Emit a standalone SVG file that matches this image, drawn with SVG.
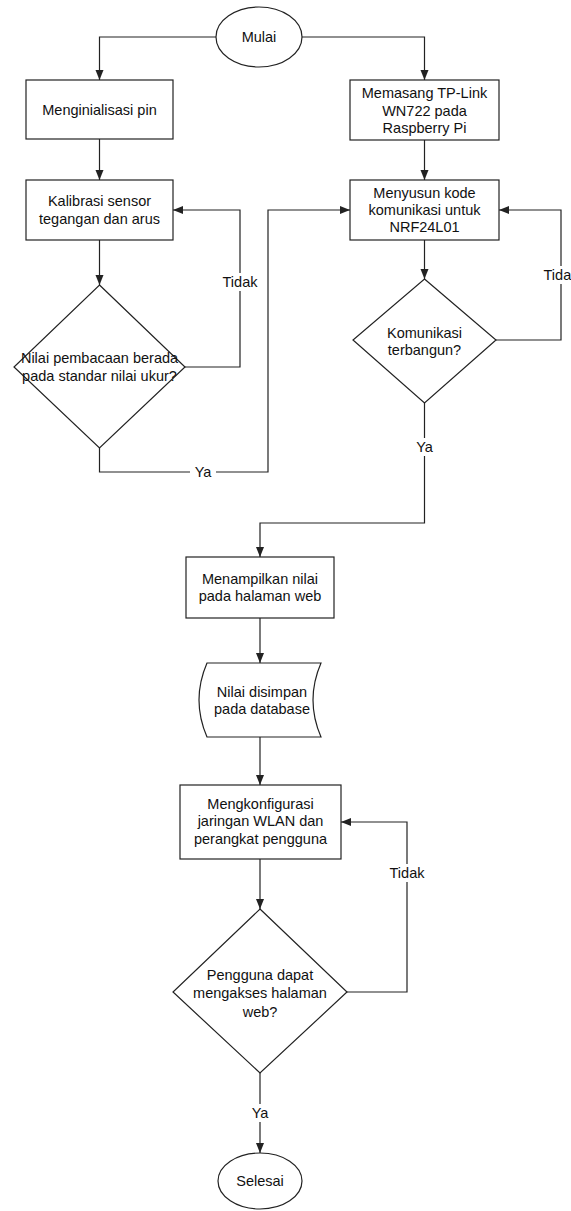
<svg xmlns="http://www.w3.org/2000/svg" width="571" height="1211" viewBox="0 0 571 1211">
<style>
  .shape { fill: #fff; stroke: #222; stroke-width: 1.2; }
  .edge { fill: none; stroke: #222; stroke-width: 1.2; }
  text { font-family: "Liberation Sans", Arial, sans-serif; font-size: 14.5px; fill: #111; text-anchor: middle; dominant-baseline: central; }
  .lblbg { fill: #fff; }
</style>
<defs>
  <marker id="arr" markerUnits="userSpaceOnUse" markerWidth="10" markerHeight="10" viewBox="0 0 10 10" refX="10" refY="5" orient="auto">
    <path d="M0,1 L10,5 L0,9 Z" fill="#222"/>
  </marker>
</defs>
<rect width="571" height="1211" fill="#fff"/>

<g id="connectors">
  <path class="edge" d="M216,37 H99.5 V80" marker-end="url(#arr)"/>
  <path class="edge" d="M302,37 H424.5 V80" marker-end="url(#arr)"/>
  <path class="edge" d="M99.5,139 V180" marker-end="url(#arr)"/>
  <path class="edge" d="M424.5,140 V180" marker-end="url(#arr)"/>
  <path class="edge" d="M99.5,240 V285" marker-end="url(#arr)"/>
  <path class="edge" d="M185,367 H240 V210 H173" marker-end="url(#arr)"/>
  <path class="edge" d="M99.5,448 V472 H268 V210 H350" marker-end="url(#arr)"/>
  <path class="edge" d="M424.5,240 V279" marker-end="url(#arr)"/>
  <path class="edge" d="M496,340 H561 V210 H499" marker-end="url(#arr)"/>
  <path class="edge" d="M424.5,403 V523 H260 V557" marker-end="url(#arr)"/>
  <path class="edge" d="M260,618 V663" marker-end="url(#arr)"/>
  <path class="edge" d="M260,737 V785" marker-end="url(#arr)"/>
  <path class="edge" d="M260,859 V909" marker-end="url(#arr)"/>
  <path class="edge" d="M347,992 H407 V822 H341" marker-end="url(#arr)"/>
  <path class="edge" d="M260,1073 V1153" marker-end="url(#arr)"/>
  <rect class="lblbg" x="221" y="273" width="38" height="18"/>
  <text x="240" y="282">Tidak</text>
  <rect class="lblbg" x="190" y="463" width="26" height="18"/>
  <text x="203" y="472">Ya</text>
  <rect class="lblbg" x="542" y="266" width="38" height="18"/>
  <text x="561" y="275">Tidak</text>
  <rect class="lblbg" x="411" y="438" width="26" height="18"/>
  <text x="424.5" y="447">Ya</text>
  <rect class="lblbg" x="388" y="864" width="38" height="18"/>
  <text x="407" y="873">Tidak</text>
  <rect class="lblbg" x="247" y="1104" width="26" height="18"/>
  <text x="260" y="1113">Ya</text>
</g>

<g id="mulai">
  <ellipse class="shape" cx="259" cy="37" rx="43" ry="30"/>
  <text x="259" y="37">Mulai</text>
</g>
<g id="menginisialisasi">
  <rect class="shape" x="26" y="80" width="147" height="59"/>
  <text x="99.5" y="109.5">Menginialisasi pin</text>
</g>
<g id="kalibrasi">
  <rect class="shape" x="26" y="180" width="147" height="60"/>
  <text x="99.5" y="201">Kalibrasi sensor</text>
  <text x="99.5" y="219">tegangan dan arus</text>
</g>
<g id="cek-nilai">
  <path class="shape" d="M99.5,285 L185,367 L99.5,448 L14,367 Z"/>
  <text x="99.5" y="358">Nilai pembacaan berada</text>
  <text x="99.5" y="376">pada standar nilai ukur?</text>
</g>
<g id="memasang">
  <rect class="shape" x="350" y="80" width="149" height="60"/>
  <text x="424.5" y="93">Memasang TP-Link</text>
  <text x="424.5" y="110.5">WN722 pada</text>
  <text x="424.5" y="128">Raspberry Pi</text>
</g>
<g id="menyusun">
  <rect class="shape" x="350" y="180" width="149" height="60"/>
  <text x="424.5" y="193">Menyusun kode</text>
  <text x="424.5" y="210">komunikasi untuk</text>
  <text x="424.5" y="227">NRF24L01</text>
</g>
<g id="komunikasi">
  <path class="shape" d="M424.5,279 L496,340 L424.5,403 L353,340 Z"/>
  <text x="424.5" y="333">Komunikasi</text>
  <text x="424.5" y="350">terbangun?</text>
</g>
<g id="menampilkan">
  <rect class="shape" x="186" y="557" width="148" height="61"/>
  <text x="260" y="579">Menampilkan nilai</text>
  <text x="260" y="596">pada halaman web</text>
</g>
<g id="database">
  <path class="shape" d="M207,663 L321,663 Q305,700 321,737 L207,737 Q191,700 207,663 Z"/>
  <text x="262" y="692">Nilai disimpan</text>
  <text x="262" y="709">pada database</text>
</g>
<g id="konfigurasi">
  <rect class="shape" x="180" y="785" width="161" height="74"/>
  <text x="260.5" y="804">Mengkonfigurasi</text>
  <text x="260.5" y="821">jaringan WLAN dan</text>
  <text x="260.5" y="839">perangkat pengguna</text>
</g>
<g id="akses">
  <path class="shape" d="M260,909 L347,992 L260,1073 L173,992 Z"/>
  <text x="260" y="975">Pengguna dapat</text>
  <text x="260" y="993">mengakses halaman</text>
  <text x="260" y="1012">web?</text>
</g>
<g id="selesai">
  <ellipse class="shape" cx="260" cy="1181" rx="42" ry="28"/>
  <text x="260" y="1181">Selesai</text>
</g>
</svg>
